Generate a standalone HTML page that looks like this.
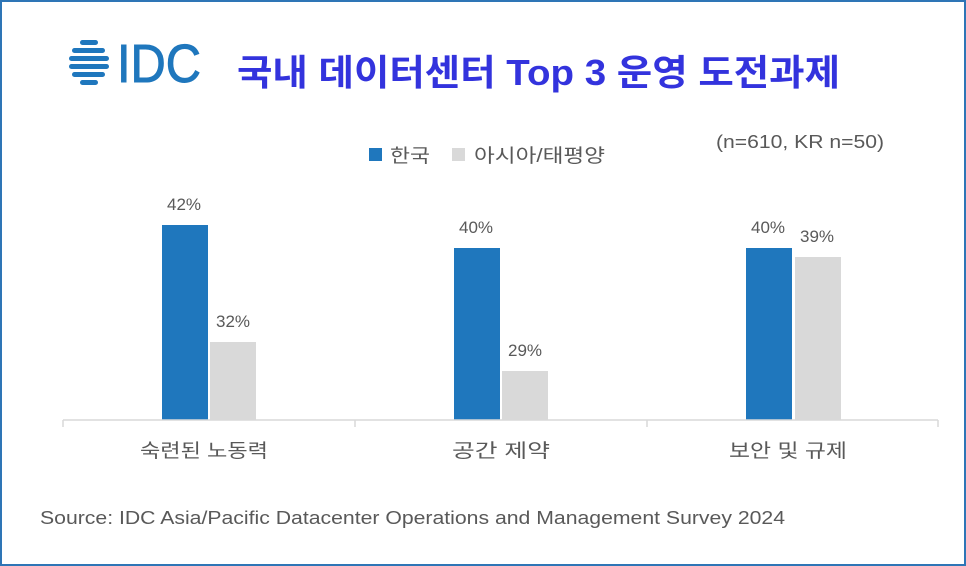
<!DOCTYPE html>
<html><head><meta charset="utf-8"><style>
body{margin:0;width:966px;height:566px;overflow:hidden;background:#fff;font-family:"Liberation Sans","Noto Sans CJK KR",sans-serif}
.f{position:absolute;left:0;top:0;width:962px;height:562px;border:2px solid #2e75b6}
.b{position:absolute;width:46px}
.bl{background:#1f77bd}.gr{background:#d9d9d9}
svg{position:absolute;left:0;top:0}
</style></head><body>
<div class="f"></div>
<div class="b bl" style="left:162px;top:225px;height:195px"></div>
<div class="b gr" style="left:210px;top:342px;height:78px"></div>
<div class="b bl" style="left:454px;top:248px;height:172px"></div>
<div class="b gr" style="left:502px;top:371px;height:49px"></div>
<div class="b bl" style="left:746px;top:248px;height:172px"></div>
<div class="b gr" style="left:795px;top:257px;height:163px"></div>
<svg width="966" height="566" font-family="Liberation Sans, Noto Sans CJK KR, sans-serif">
<g fill="#1f77bd">
<rect x="80" y="40" width="18" height="5" rx="2.5"/>
<rect x="72" y="48" width="33" height="5" rx="2.5"/>
<rect x="69" y="56" width="40" height="5" rx="2.5"/>
<rect x="69" y="64" width="40" height="5" rx="2.5"/>
<rect x="72" y="72" width="33" height="5" rx="2.5"/>
<rect x="80" y="80" width="18" height="5" rx="2.5"/>
</g>
<text x="117" y="82" font-size="54" fill="#1f77bd" stroke="#1f77bd" stroke-width="1" textLength="84" lengthAdjust="spacingAndGlyphs">IDC</text>
<text x="237" y="85" font-size="36" font-weight="bold" fill="#3333dd" textLength="603" lengthAdjust="spacingAndGlyphs">국내 데이터센터 Top 3 운영 도전과제</text>
<rect x="369" y="148" width="13" height="13" fill="#1f77bd"/>
<text x="390" y="162" font-size="19" fill="#595959" textLength="40" lengthAdjust="spacingAndGlyphs">한국</text>
<rect x="452" y="148" width="13" height="13" fill="#d9d9d9"/>
<text x="474" y="162" font-size="19" fill="#595959" textLength="131" lengthAdjust="spacingAndGlyphs">아시아/태평양</text>
<text x="716" y="148" font-size="18" fill="#595959" textLength="168" lengthAdjust="spacingAndGlyphs">(n=610, KR n=50)</text>
<g font-size="17" fill="#595959" text-anchor="middle">
<text x="184" y="210">42%</text><text x="233" y="327">32%</text>
<text x="476" y="233">40%</text><text x="525" y="356">29%</text>
<text x="768" y="233">40%</text><text x="817" y="242">39%</text>
</g>
<g stroke="#d9d9d9" stroke-width="1.5">
<line x1="63" y1="420" x2="938" y2="420"/>
<line x1="63" y1="420" x2="63" y2="427"/><line x1="355" y1="420" x2="355" y2="427"/>
<line x1="647" y1="420" x2="647" y2="427"/><line x1="938" y1="420" x2="938" y2="427"/></g>
<g font-size="19" fill="#595959">
<text x="140" y="457" textLength="128" lengthAdjust="spacingAndGlyphs">숙련된 노동력</text>
<text x="452" y="457" textLength="98" lengthAdjust="spacingAndGlyphs">공간 제약</text>
<text x="729" y="457" textLength="118" lengthAdjust="spacingAndGlyphs">보안 및 규제</text>
</g>
<text x="40" y="524" font-size="18" fill="#595959" textLength="745" lengthAdjust="spacingAndGlyphs">Source: IDC Asia/Pacific Datacenter Operations and Management Survey 2024</text>
</svg>
</body></html>
